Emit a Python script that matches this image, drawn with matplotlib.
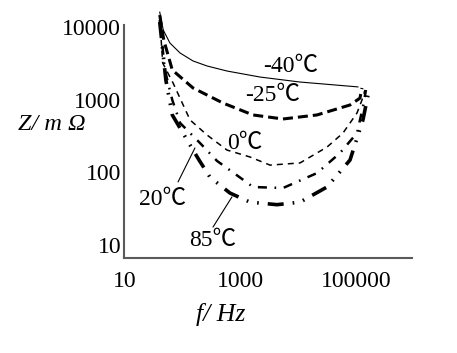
import matplotlib
matplotlib.use("Agg")
import matplotlib.pyplot as plt

plt.rcParams['font.family'] = ['Liberation Serif', 'Noto Sans CJK JP', 'DejaVu Serif']
plt.rcParams['lines.scale_dashes'] = False

# impedance Z (mOhm) vs frequency f (Hz)
f_m40 = [40, 46, 60, 90, 151, 264, 586, 2190, 10800, 109000]
z_m40 = [16000, 9100, 6030, 4390, 3410, 2910, 2480, 2050, 1750, 1500]

f_m25 = [40, 47, 66, 151, 499, 1650, 5470, 21300, 79400, 118000, 128000]
z_m25 = [14600, 6620, 2560, 1450, 900, 617, 543, 617, 846, 1050, 1450]

f_0 = [40, 45, 68, 134, 264, 586, 1466, 3260, 10800, 31700, 60000, 105000, 128000, 144000]
z_0 = [13300, 3200, 1700, 527, 327, 203, 163, 126, 135, 223, 348, 657, 990, 1360]

f_20 = [40, 49, 66, 90, 200, 393, 1200, 1650, 5470, 21300, 53200, 105000, 133000, 150000]
z_20 = [12500, 2560, 990, 479, 253, 144, 76, 63, 61, 98, 185, 348, 794, 1360]

f_85 = [40, 51, 66, 119, 192, 297, 660, 1466, 4306, 10800, 31700, 79400, 133000, 163000]
z_85 = [11700, 1870, 617, 279, 148, 86, 52, 39, 36, 39, 63, 148, 527, 1160]

x_ticks = [10, 1000, 100000]
y_ticks = [10, 100, 1000, 10000]

fig = plt.figure(figsize=(4.57, 3.53), dpi=100)
ax = fig.add_axes([0.2713, 0.2691, 0.6302, 0.7082])
ax.set_xscale('log')
ax.set_yscale('log')
ax.set_xlim(9.6, 942000)
ax.set_ylim(6.65, 18240)

ax.plot(f_m40, z_m40, color='black', lw=0.8)
ax.plot(f_m25, z_m25, color='black', lw=2.2, dashes=(7.2, 3.6))
ax.plot(f_0, z_0, color='black', lw=1.1, dashes=(4.3, 3.6))
ax.plot(f_20, z_20, color='black', lw=1.8, dashes=(6.5, 5.5, 1.2, 5.5))
ax.plot(f_85, z_85, color='black', lw=2.6, dashes=(11.5, 6.5, 1.2, 6.5, 1.2, 6.5))

fs = 17
ax.text(7540, 2820, '-40℃', fontsize=fs, ha='center', va='center')
ax.text(3670, 1125, '-25℃', fontsize=fs, ha='center', va='center')
ax.text(1200, 253, '0℃', fontsize=fs, ha='center', va='center')
ax.text(44, 43, '20℃', fontsize=fs, ha='center', va='center')
ax.text(335, 11.4, '85℃', fontsize=fs, ha='center', va='center')

# leader lines
ax.annotate('', xy=(163, 217), xytext=(83, 74),
            arrowprops=dict(arrowstyle='-', lw=0.8, color='black', shrinkA=0, shrinkB=0))
ax.annotate('', xy=(714, 46), xytext=(335, 17.7),
            arrowprops=dict(arrowstyle='-', lw=0.8, color='black', shrinkA=0, shrinkB=0))

for side in ['top', 'right']:
    ax.spines[side].set_visible(False)
for side in ['left', 'bottom']:
    ax.spines[side].set_color('#5a5a5a')
    ax.spines[side].set_linewidth(1.5)
ax.spines['left'].set_bounds(6.65, 10650)

ax.set_xticks(x_ticks)
ax.set_xticklabels([str(v) for v in x_ticks])
ax.set_yticks(y_ticks)
ax.set_yticklabels([str(v) for v in y_ticks])
ax.minorticks_off()
ax.tick_params(axis='x', length=0, pad=9, labelsize=fs)
ax.tick_params(axis='y', length=0, pad=2, labelsize=fs)

fig.text(52 / 457, 1 - 125 / 353, 'Z/ m Ω', fontsize=17.5, fontstyle='italic',
         ha='center', va='center')
fig.text(221 / 457, 1 - 314 / 353, 'f/ Hz', fontsize=18.5, fontstyle='italic',
         ha='center', va='center')

fig.savefig('out.png', dpi=100)
